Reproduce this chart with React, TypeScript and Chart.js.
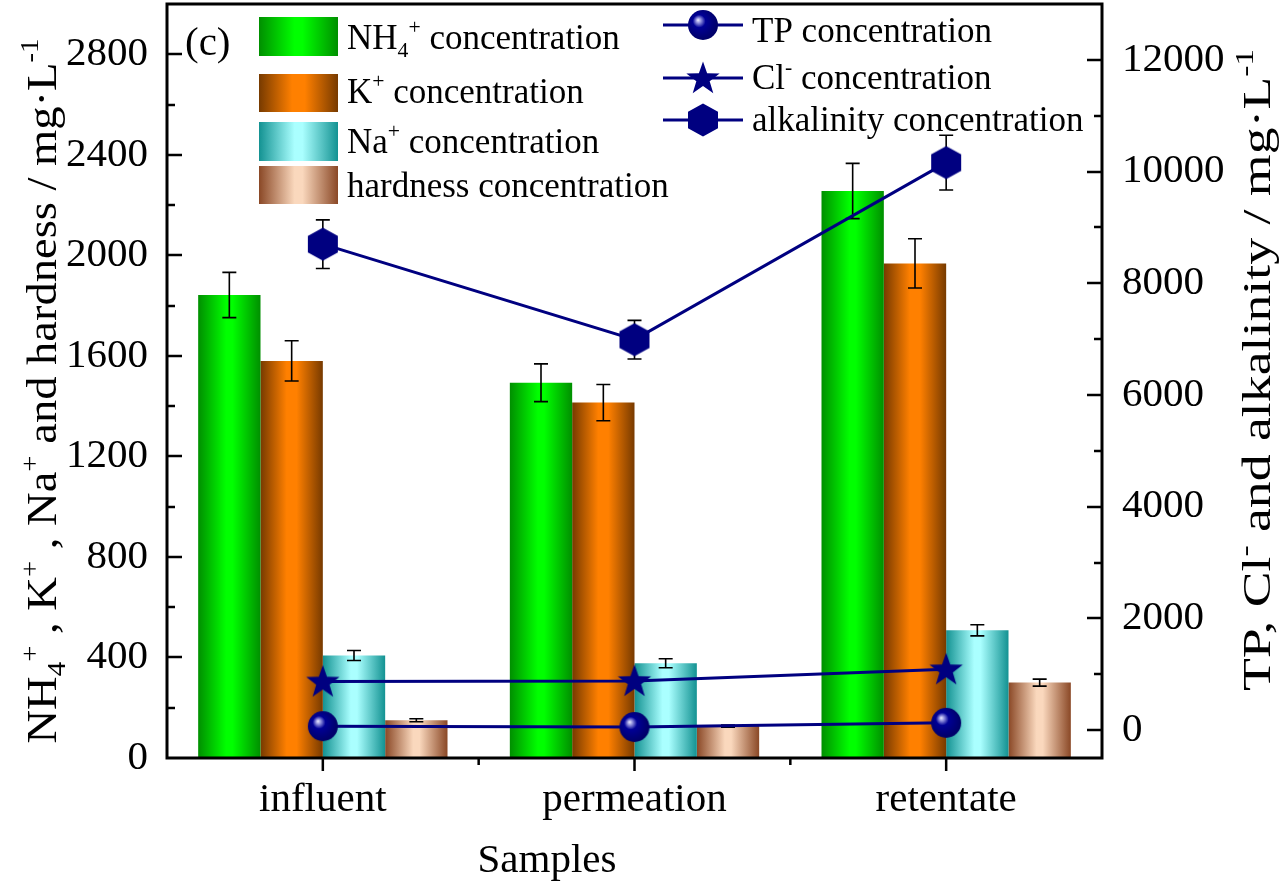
import React, { useEffect, useRef } from 'react';
import { Chart, registerables } from 'chart.js';

Chart.register(...registerables);

// ---------------- data ----------------
const categories = ['influent', 'permeation', 'retentate'];

const nh4 = [1842, 1493, 2256];
const nh4Err = [90, 75, 110];
const kPlus = [1580, 1414, 1968];
const kErr = [80, 72, 98];
const naPlus = [408, 377, 508];
const naErr = [20, 18, 22];
const hardness = [150, 127, 300];
const hardErr = [6, 4, 14];

const tp = [70, 55, 130];
const cl = [870, 880, 1090];
const alk = [8700, 6990, 10160];
const alkErr = [435, 345, 490];

const leftTicks = [0, 400, 800, 1200, 1600, 2000, 2400, 2800];
const leftMinor = [200, 600, 1000, 1400, 1800, 2200, 2600];
const rightTicks = [0, 2000, 4000, 6000, 8000, 10000, 12000];
const rightMinor = [1000, 3000, 5000, 7000, 9000, 11000];

// ---------------- styles ----------------
const FAMILY = '"Liberation Serif", "Times New Roman", serif';
const NAVY = '#000080';

type Stop = [number, string];
const greenStops: Stop[] = [[0, '#008f00'], [0.45, '#00ff00'], [0.55, '#00ff00'], [1, '#008f00']];
const orangeStops: Stop[] = [[0, '#773a00'], [0.42, '#ff8000'], [0.58, '#ff8000'], [1, '#773a00']];
const cyanStops: Stop[] = [[0, '#139292'], [0.45, '#aaffff'], [0.55, '#aaffff'], [1, '#139292']];
const tanStops: Stop[] = [[0, '#8a4826'], [0.45, '#fad8bd'], [0.55, '#fad8bd'], [1, '#8a4826']];

type Part = { t: string; k?: 'sup' | 'sub' };

function partsWidth(ctx: CanvasRenderingContext2D, parts: Part[], size: number) {
  let w = 0;
  for (const p of parts) {
    const fs = p.k ? size * 0.62 : size;
    ctx.font = `${fs}px ${FAMILY}`;
    w += ctx.measureText(p.t).width;
  }
  return w;
}

function drawRich(ctx: CanvasRenderingContext2D, parts: Part[], x: number, y: number, size: number) {
  let cx = x;
  ctx.textAlign = 'left';
  ctx.textBaseline = 'alphabetic';
  for (const p of parts) {
    const fs = p.k ? size * 0.62 : size;
    ctx.font = `${fs}px ${FAMILY}`;
    const dy = p.k === 'sup' ? -size * 0.42 : p.k === 'sub' ? size * 0.22 : 0;
    ctx.fillText(p.t, cx, y + dy);
    cx += ctx.measureText(p.t).width;
  }
}

function makeGradient(ctx: CanvasRenderingContext2D, left: number, w: number, stops: Stop[]) {
  const g = ctx.createLinearGradient(left, 0, left + w, 0);
  stops.forEach(([o, c]) => g.addColorStop(o, c));
  return g;
}

const barBg = (di: number, stops: Stop[]) => (c: any) => {
  const chart = c.chart;
  const xs = chart.scales?.x;
  if (!xs || c.type !== 'data' || !xs.width) return stops[1][1];
  const center = xs.getPixelForValue(c.dataIndex);
  const catW = xs.width / categories.length;
  const w = (catW * 0.8) / 4;
  const left = center - 2 * w + di * w;
  return makeGradient(chart.ctx, left, w, stops);
};

function makeSphere() {
  const cv = document.createElement('canvas');
  cv.width = 32; cv.height = 32;
  const c = cv.getContext('2d')!;
  const g = c.createRadialGradient(11, 11, 0, 14, 14, 16);
  g.addColorStop(0, '#f0f0ff');
  g.addColorStop(0.12, '#a8a8e8');
  g.addColorStop(0.4, '#000096');
  g.addColorStop(1, '#00006a');
  c.fillStyle = g;
  c.beginPath();
  c.arc(16, 16, 15, 0, Math.PI * 2);
  c.fill();
  return cv;
}

function makeStar() {
  const cv = document.createElement('canvas');
  cv.width = 36; cv.height = 36;
  const c = cv.getContext('2d')!;
  c.fillStyle = NAVY;
  c.beginPath();
  const R = 17.5, r = 7;
  for (let i = 0; i < 10; i++) {
    const rad = i % 2 === 0 ? R : r;
    const a = -Math.PI / 2 + (i * Math.PI) / 5;
    const px = 18 + rad * Math.cos(a);
    const py = 19 + rad * Math.sin(a);
    if (i === 0) c.moveTo(px, py); else c.lineTo(px, py);
  }
  c.closePath();
  c.fill();
  return cv;
}

function makeHex() {
  const cv = document.createElement('canvas');
  cv.width = 34; cv.height = 34;
  const c = cv.getContext('2d')!;
  c.fillStyle = NAVY;
  c.beginPath();
  const R = 16.5;
  for (let i = 0; i < 6; i++) {
    const a = -Math.PI / 2 + (i * Math.PI) / 3;
    const px = 17 + R * 1.05 * Math.cos(a);
    const py = 17 + R * Math.sin(a);
    if (i === 0) c.moveTo(px, py); else c.lineTo(px, py);
  }
  c.closePath();
  c.fill();
  return cv;
}

const PLOT_TOP = 4;

const layoutFix = {
  id: 'layoutFix',
  afterLayout(chart: any) {
    const a = chart.chartArea;
    a.top = PLOT_TOP;
    a.height = a.bottom - PLOT_TOP;
    ['y', 'y2'].forEach((id) => {
      const s = chart.scales[id];
      s.top = PLOT_TOP;
      s.height = s.bottom - PLOT_TOP;
      s.configure();
    });
  },
};

export default function App() {
  const ref = useRef<HTMLCanvasElement | null>(null);

  useEffect(() => {
    document.body.style.margin = '0';
    const canvas = ref.current!;
    const sphere = makeSphere();
    const star = makeStar();
    const hex = makeHex();

    const barErrors = [nh4Err, kErr, naErr, hardErr];

    const drawErr = (ctx: CanvasRenderingContext2D, x: number, y1: number, y2: number, cap: number) => {
      ctx.save();
      ctx.strokeStyle = '#000';
      ctx.lineWidth = 1.6;
      ctx.beginPath();
      ctx.moveTo(x, y1); ctx.lineTo(x, y2);
      ctx.moveTo(x - cap, y1); ctx.lineTo(x + cap, y1);
      ctx.moveTo(x - cap, y2); ctx.lineTo(x + cap, y2);
      ctx.stroke();
      ctx.restore();
    };

    const errorPlugin = {
      id: 'errorbars',
      afterDatasetDraw(chart: any, args: any) {
        const idx = args.index;
        if (idx > 3) return;
        const ctx = chart.ctx;
        const ys = chart.scales.y;
        const meta = chart.getDatasetMeta(idx);
        const vals = chart.data.datasets[idx].data as number[];
        meta.data.forEach((el: any, i: number) => {
          const e = barErrors[idx][i];
          drawErr(ctx, el.x, ys.getPixelForValue(vals[i] + e), ys.getPixelForValue(vals[i] - e), 7);
        });
      },
      beforeDatasetDraw(chart: any, args: any) {
        if (args.index !== 6) return;
        const ctx = chart.ctx;
        const ys = chart.scales.y2;
        const meta = chart.getDatasetMeta(6);
        meta.data.forEach((el: any, i: number) => {
          drawErr(ctx, el.x, ys.getPixelForValue(alk[i] + alkErr[i]), ys.getPixelForValue(alk[i] - alkErr[i]), 7);
        });
      },
    };

    const drawTitle = (ctx: CanvasRenderingContext2D, parts: Part[], bx: number, cy: number, size: number, target: number) => {
      const w = partsWidth(ctx, parts, size);
      ctx.save();
      ctx.translate(bx, cy);
      ctx.rotate(-Math.PI / 2);
      ctx.scale(target / w, 1);
      drawRich(ctx, parts, -w / 2, 0, size);
      ctx.restore();
    };

    const framePlugin = {
      id: 'frame',
      afterDraw(chart: any) {
        const ctx: CanvasRenderingContext2D = chart.ctx;
        const a = chart.chartArea;
        const ys = chart.scales.y;
        const y2 = chart.scales.y2;
        const xs = chart.scales.x;
        ctx.save();
        ctx.strokeStyle = '#000';
        ctx.lineWidth = 3;
        ctx.lineCap = 'butt';
        ctx.beginPath();
        ctx.moveTo(a.left, a.bottom + 1.5);
        ctx.lineTo(a.left, a.top);
        ctx.lineTo(a.right, a.top);
        ctx.lineTo(a.right, a.bottom + 1.5);
        ctx.moveTo(a.left - 1.5, a.bottom);
        ctx.lineTo(a.right + 1.5, a.bottom);
        ctx.stroke();
        ctx.lineWidth = 2.5;
        ctx.beginPath();
        leftTicks.forEach((v) => {
          const p = Math.round(ys.getPixelForValue(v));
          if (v === 0) return;
          ctx.moveTo(a.left, p); ctx.lineTo(a.left + 15, p);
        });
        leftMinor.forEach((v) => {
          const p = Math.round(ys.getPixelForValue(v));
          ctx.moveTo(a.left, p); ctx.lineTo(a.left + 8, p);
        });
        rightTicks.forEach((v) => {
          const p = Math.round(y2.getPixelForValue(v));
          ctx.moveTo(a.right, p); ctx.lineTo(a.right - 15, p);
        });
        rightMinor.forEach((v) => {
          const p = Math.round(y2.getPixelForValue(v));
          ctx.moveTo(a.right, p); ctx.lineTo(a.right - 8, p);
        });
        categories.forEach((_, i) => {
          const p = xs.getPixelForValue(i);
          ctx.moveTo(p, a.bottom); ctx.lineTo(p, a.bottom + 13);
        });
        const catW = xs.width / categories.length;
        for (let i = 1; i < categories.length; i++) {
          const p = a.left + i * catW;
          ctx.moveTo(p, a.bottom); ctx.lineTo(p, a.bottom + 7);
        }
        ctx.stroke();

        // axis titles
        ctx.fillStyle = '#000';
        const leftTitle: Part[] = [
          { t: 'NH' }, { t: '4', k: 'sub' }, { t: '+', k: 'sup' }, { t: ' , K' }, { t: '+', k: 'sup' },
          { t: ' , Na' }, { t: '+', k: 'sup' }, { t: ' and hardness / mg·L' }, { t: '-1', k: 'sup' },
        ];
        const rightTitle: Part[] = [
          { t: 'TP, Cl' }, { t: '-', k: 'sup' }, { t: ' and alkalinity / mg·L' }, { t: '-1', k: 'sup' },
        ];
        drawTitle(ctx, leftTitle, 56, 391, 42, 705);
        drawTitle(ctx, rightTitle, 1270, 370, 41, 642);

        ctx.font = `41px ${FAMILY}`;
        ctx.textAlign = 'center';
        ctx.textBaseline = 'alphabetic';
        ctx.fillText('Samples', 547, 872);

        // panel label
        ctx.textAlign = 'left';
        ctx.fillText('(c)', 185, 55);

        // legend (bars)
        const lSize = 35;
        const barLeg: { parts: Part[]; stops: Stop[]; top: number; bot: number; base: number }[] = [
          { parts: [{ t: 'NH' }, { t: '4', k: 'sub' }, { t: '+', k: 'sup' }, { t: ' concentration' }], stops: greenStops, top: 17, bot: 56, base: 49 },
          { parts: [{ t: 'K' }, { t: '+', k: 'sup' }, { t: ' concentration' }], stops: orangeStops, top: 74, bot: 112, base: 103 },
          { parts: [{ t: 'Na' }, { t: '+', k: 'sup' }, { t: ' concentration' }], stops: cyanStops, top: 122, bot: 161, base: 153 },
          { parts: [{ t: 'hardness concentration' }], stops: tanStops, top: 166, bot: 204, base: 197 },
        ];
        barLeg.forEach((it) => {
          ctx.fillStyle = makeGradient(ctx, 259, 79, it.stops);
          ctx.fillRect(259, it.top, 79, it.bot - it.top);
          ctx.fillStyle = '#000';
          drawRich(ctx, it.parts, 347, it.base, lSize);
        });

        // legend (lines)
        const lineLeg: { parts: Part[]; img: HTMLCanvasElement; cy: number; base: number }[] = [
          { parts: [{ t: 'TP concentration' }], img: sphere, cy: 25, base: 42 },
          { parts: [{ t: 'Cl' }, { t: '-', k: 'sup' }, { t: ' concentration' }], img: star, cy: 78, base: 89 },
          { parts: [{ t: 'alkalinity concentration' }], img: hex, cy: 120, base: 131 },
        ];
        lineLeg.forEach((it) => {
          ctx.strokeStyle = NAVY;
          ctx.lineWidth = 3;
          ctx.beginPath();
          ctx.moveTo(663, it.cy); ctx.lineTo(743, it.cy);
          ctx.stroke();
          ctx.drawImage(it.img, 703 - it.img.width / 2, it.cy - it.img.height / 2);
          ctx.fillStyle = '#000';
          drawRich(ctx, it.parts, 752, it.base, lSize);
        });
        ctx.restore();
      },
    };

    const tickFont = { family: FAMILY, size: 41 };
    const plain = (v: any) => String(v);

    const chart = new Chart(canvas, {
      data: {
        labels: categories,
        datasets: [
          { type: 'bar', label: 'NH4+ concentration', data: nh4, backgroundColor: barBg(0, greenStops), borderWidth: 0, yAxisID: 'y', order: 1, categoryPercentage: 0.8, barPercentage: 1 },
          { type: 'bar', label: 'K+ concentration', data: kPlus, backgroundColor: barBg(1, orangeStops), borderWidth: 0, yAxisID: 'y', order: 1, categoryPercentage: 0.8, barPercentage: 1 },
          { type: 'bar', label: 'Na+ concentration', data: naPlus, backgroundColor: barBg(2, cyanStops), borderWidth: 0, yAxisID: 'y', order: 1, categoryPercentage: 0.8, barPercentage: 1 },
          { type: 'bar', label: 'hardness concentration', data: hardness, backgroundColor: barBg(3, tanStops), borderWidth: 0, yAxisID: 'y', order: 1, categoryPercentage: 0.8, barPercentage: 1 },
          { type: 'line', label: 'TP concentration', data: tp, yAxisID: 'y2', borderColor: NAVY, borderWidth: 3, pointStyle: sphere, pointRadius: 15, fill: false, tension: 0, order: 0 },
          { type: 'line', label: 'Cl- concentration', data: cl, yAxisID: 'y2', borderColor: NAVY, borderWidth: 3, pointStyle: star, pointRadius: 15, fill: false, tension: 0, order: 0 },
          { type: 'line', label: 'alkalinity concentration', data: alk, yAxisID: 'y2', borderColor: NAVY, borderWidth: 3, pointStyle: hex, pointRadius: 15, fill: false, tension: 0, order: 0 },
        ] as any,
      },
      options: {
        responsive: false,
        animation: false,
        layout: { padding: { top: 4, left: 0, right: 0, bottom: 0 } },
        plugins: { legend: { display: false }, tooltip: { enabled: false }, title: { display: false } },
        scales: {
          x: {
            type: 'category',
            offset: true,
            grid: { display: false, drawTicks: false },
            border: { display: false },
            ticks: { font: tickFont, color: '#000', padding: 18, maxRotation: 0, autoSkip: false },
            afterFit: (s: any) => { s.height = 127; },
          },
          y: {
            type: 'linear',
            position: 'left',
            min: 0,
            max: 3000,
            grid: { display: false, drawTicks: false },
            border: { display: false },
            ticks: { font: tickFont, color: '#000', padding: 19, callback: plain },
            afterBuildTicks: (s: any) => { s.ticks = leftTicks.map((v) => ({ value: v })); },
            afterFit: (s: any) => { s.width = 167; },
          },
          y2: {
            type: 'linear',
            position: 'right',
            min: -500,
            max: 13000,
            grid: { display: false, drawTicks: false },
            border: { display: false },
            ticks: { font: tickFont, color: '#000', padding: 20, callback: plain },
            afterBuildTicks: (s: any) => { s.ticks = rightTicks.map((v) => ({ value: v })); },
            afterFit: (s: any) => { s.width = 178; },
          },
        },
      } as any,
      plugins: [layoutFix, errorPlugin, framePlugin],
    });

    return () => chart.destroy();
  }, []);

  return <canvas ref={ref} width={1280} height={885} style={{ display: 'block' }} />;
}
